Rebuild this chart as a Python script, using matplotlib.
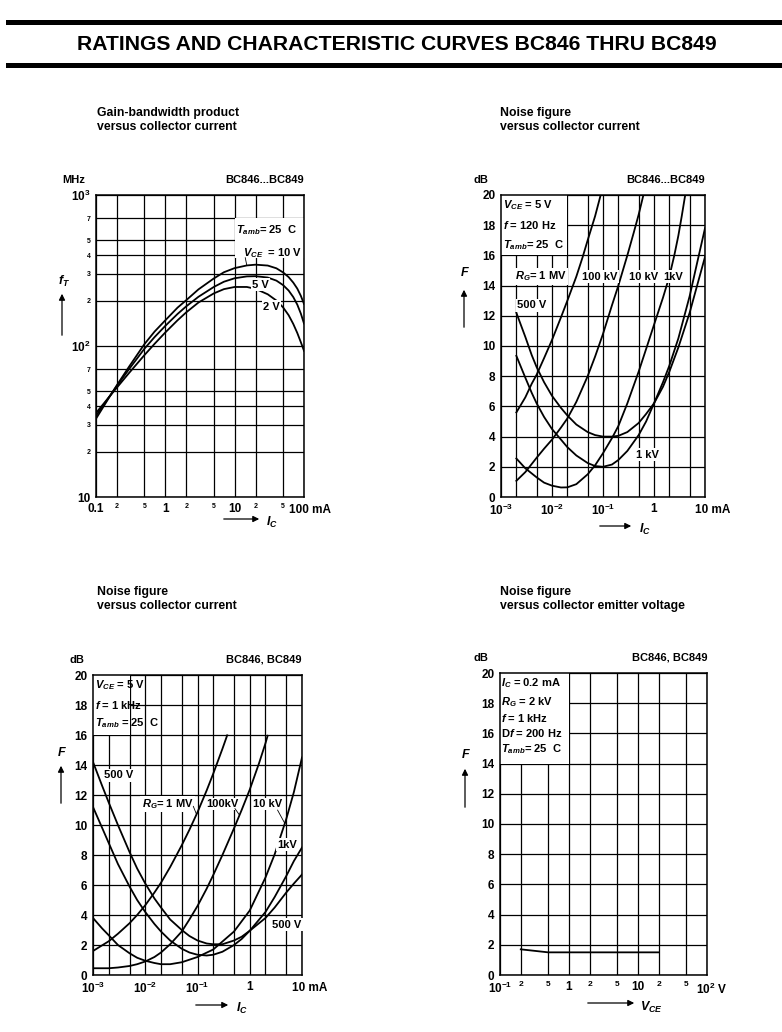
import matplotlib
matplotlib.use("Agg")
import matplotlib.pyplot as plt
from matplotlib.patches import Rectangle, FancyArrowPatch
from matplotlib.lines import Line2D

plt.rcParams['font.family'] = ['Liberation Sans Narrow', 'Liberation Sans', 'DejaVu Sans']
plt.rcParams['mathtext.fontset'] = 'custom'
plt.rcParams['mathtext.rm'] = 'Liberation Sans:bold'
plt.rcParams['mathtext.it'] = 'Liberation Sans:bold:italic'
plt.rcParams['mathtext.bf'] = 'Liberation Sans:bold'

# ---------------- data ----------------
# Panel 1: gain-bandwidth product fT (MHz) vs IC (mA)
ic1 = [0.1, 0.15, 0.2, 0.3, 0.5, 0.7, 1, 1.5, 2, 3, 5, 7, 10, 15, 20, 30, 40, 50, 60, 70, 80, 90, 100]
ft_10v = [33, 44.6, 55, 73, 103, 124.6, 148, 179.5, 201, 237, 280, 308, 328, 341.6, 345.6, 341, 327, 307, 286, 263, 240, 215, 190]
ft_5v = [34.5, 45.1, 54.4, 70.3, 96, 114.6, 136, 163, 183, 211.7, 246, 266.5, 281, 289, 290, 284, 271, 253, 233, 211, 188, 164, 141]
ft_2v = [36, 45.2, 53, 66.3, 87.1, 103.4, 123, 148, 167, 194, 223, 238, 246, 246, 239, 220, 200, 180, 160, 140, 122, 106, 93]

# Panel 2: noise figure (dB) vs IC (mA), f = 120 Hz
ic2_1M = [2e-3, 3e-3, 4e-3, 5e-3, 7e-3, 1e-2, 1.5e-2, 2e-2, 3e-2, 4e-2, 5e-2, 7e-2, 9e-2]
nf2_1M = [5.6, 6.6, 7.5, 8.1, 9.2, 10.4, 11.9, 13.0, 14.6, 15.9, 17.0, 18.6, 20.0]
ic2_100k = [2e-3, 3e-3, 5e-3, 7e-3, 1e-2, 1.5e-2, 2e-2, 3e-2, 5e-2, 7e-2, 0.1, 0.15, 0.2, 0.3, 0.4, 0.5, 0.62]
nf2_100k = [1.07, 1.65, 2.6, 3.2, 3.8, 4.6, 5.2, 6.3, 8.0, 9.3, 10.8, 12.7, 14.0, 16.0, 17.5, 18.7, 20.0]
ic2_10k = [2e-3, 3e-3, 5e-3, 7e-3, 1e-2, 1.5e-2, 2e-2, 3e-2, 5e-2, 7e-2, 0.1, 0.15, 0.2, 0.3, 0.5, 0.7, 1, 1.5, 2, 2.5, 3, 3.5, 4, 4.1]
nf2_10k = [2.55, 1.9, 1.3, 0.95, 0.75, 0.63, 0.64, 0.85, 1.5, 2.1, 2.9, 3.9, 4.7, 6.2, 8.3, 9.8, 11.4, 13.2, 14.6, 16.0, 17.3, 18.6, 19.8, 20.0]
ic2_1k = [2e-3, 3e-3, 4e-3, 5e-3, 7e-3, 1e-2, 1.5e-2, 2e-2, 3e-2, 5e-2, 7e-2, 0.1, 0.15, 0.2, 0.3, 0.5, 0.7, 1, 1.5, 2, 3, 5, 7, 10]
nf2_1k = [9.35, 7.9, 6.9, 6.2, 5.3, 4.5, 3.8, 3.3, 2.75, 2.25, 2.05, 2.0, 2.15, 2.45, 3.05, 4.1, 5.0, 6.2, 7.6, 8.7, 10.5, 13.3, 15.5, 17.8]
ic2_500 = [2e-3, 3e-3, 4e-3, 5e-3, 7e-3, 1e-2, 1.5e-2, 2e-2, 3e-2, 5e-2, 7e-2, 0.1, 0.15, 0.2, 0.3, 0.5, 0.7, 1, 1.5, 2, 3, 5, 7, 10]
nf2_500 = [12.2, 10.6, 9.4, 8.6, 7.6, 6.7, 5.9, 5.4, 4.8, 4.3, 4.1, 4.0, 4.0, 4.05, 4.3, 4.9, 5.5, 6.2, 7.3, 8.3, 9.9, 12.2, 14.0, 15.9]

# Panel 3: noise figure (dB) vs IC (mA), f = 1 kHz
ic3_500 = [1e-3, 1.5e-3, 2e-3, 3e-3, 5e-3, 7e-3, 1e-2, 1.5e-2, 2e-2, 3e-2, 5e-2, 7e-2, 0.1, 0.15, 0.2, 0.3, 0.5, 0.7, 1, 2, 3, 5, 7, 10]
nf3_500 = [14.2, 12.6, 11.5, 10.0, 8.2, 7.1, 6.1, 5.1, 4.5, 3.7, 3.0, 2.6, 2.3, 2.1, 2.05, 2.05, 2.3, 2.55, 2.95, 3.8, 4.5, 5.5, 6.1, 6.7]
ic3_1k = [1e-3, 1.5e-3, 2e-3, 3e-3, 5e-3, 7e-3, 1e-2, 1.5e-2, 2e-2, 3e-2, 5e-2, 7e-2, 0.1, 0.15, 0.2, 0.3, 0.5, 0.7, 1, 2, 3, 5, 7, 10]
nf3_1k = [11.2, 9.8, 8.8, 7.4, 5.9, 5.0, 4.2, 3.4, 2.9, 2.3, 1.75, 1.5, 1.35, 1.3, 1.35, 1.55, 2.0, 2.4, 2.95, 4.2, 5.2, 6.6, 7.6, 8.5]
ic3_10k = [1e-3, 1.5e-3, 2e-3, 3e-3, 5e-3, 7e-3, 1e-2, 1.5e-2, 2e-2, 3e-2, 5e-2, 0.1, 0.2, 0.5, 1, 2, 3, 5, 7, 10]
nf3_10k = [3.8, 3.1, 2.65, 2.0, 1.45, 1.15, 0.95, 0.8, 0.72, 0.72, 0.85, 1.2, 1.7, 2.9, 4.3, 6.5, 8.05, 10.4, 12.2, 14.5]
ic3_100k = [1e-3, 2e-3, 3e-3, 5e-3, 7e-3, 1e-2, 1.5e-2, 2e-2, 3e-2, 5e-2, 7e-2, 0.1, 0.15, 0.2, 0.3, 0.5, 0.7, 1, 1.5, 2, 2.2]
nf3_100k = [0.45, 0.45, 0.5, 0.6, 0.72, 0.9, 1.2, 1.5, 2.05, 2.9, 3.7, 4.6, 5.76, 6.66, 8.0, 9.78, 11.0, 12.36, 14.1, 15.45, 15.95]
ic3_1M = [1e-3, 2e-3, 3e-3, 5e-3, 7e-3, 1e-2, 1.5e-2, 2e-2, 3e-2, 5e-2, 7e-2, 0.1, 0.15, 0.2, 0.3, 0.37]
nf3_1M = [1.6, 2.25, 2.75, 3.45, 4.0, 4.65, 5.5, 6.15, 7.2, 8.65, 9.68, 10.85, 12.31, 13.42, 15.08, 15.98]

# Panel 4: noise figure (dB) vs VCE (V)
vce4 = [0.2, 0.5, 1, 2, 5, 10, 20]
nf4 = [1.7, 1.5, 1.5, 1.5, 1.5, 1.5, 1.5]

# ticks
x1_ticks = [0.1, 0.2, 0.5, 1, 2, 5, 10, 20, 50, 100]
x1_labels = ["0.1", "2", "5", "1", "2", "5", "10", "2", "5", ""]
y1_ticks = [10, 20, 30, 40, 50, 70, 100, 200, 300, 400, 500, 700, 1000]
y1_labels = ["10", "2", "3", "4", "5", "7", r"$10^2$", "2", "3", "4", "5", "7", r"$10^3$"]
xn_ticks = [1e-3, 2e-3, 5e-3, 1e-2, 2e-2, 5e-2, 0.1, 0.2, 0.5, 1, 2, 5, 10]
xn_labels = [r"$10^{-3}$", "", "", r"$10^{-2}$", "", "", r"$10^{-1}$", "", "", "1", "", "", ""]
yn_ticks = [0, 2, 4, 6, 8, 10, 12, 14, 16, 18, 20]
yn_labels = ["0", "2", "4", "6", "8", "10", "12", "14", "16", "18", "20"]
x4_ticks = [0.1, 0.2, 0.5, 1, 2, 5, 10, 20, 50, 100]
x4_labels = [r"$10^{-1}$", "2", "5", "1", "2", "5", "10", "2", "5", ""]

W, H = 782, 1032
fig = plt.figure(figsize=(W / 100, H / 100), dpi=100)


def fx(px):
    return px / W


def fy(py):
    return 1 - py / H


def make_ax(x0, y0, x1, y1):
    return fig.add_axes([fx(x0), fy(y1), fx(x1) - fx(x0), (y1 - y0) / H])


BIG = 8.5
SMALL = 5.0


def style(ax, xt, xl, yt, yl, small_x=(), small_y=()):
    ax.set_xticks(xt)
    ax.set_xticklabels(xl)
    ax.set_yticks(yt)
    ax.set_yticklabels(yl)
    ax.minorticks_off()
    ax.tick_params(length=0, pad=4)
    ax.set_axisbelow(True)
    ax.grid(True, which='major', color='black', linewidth=0.9)
    for i, t in enumerate(ax.get_xticklabels()):
        t.set_fontweight('bold')
        t.set_fontsize(SMALL if i in small_x else BIG)
    for i, t in enumerate(ax.get_yticklabels()):
        t.set_fontweight('bold')
        t.set_fontsize(SMALL if i in small_y else BIG)
    for s in ax.spines.values():
        s.set_linewidth(1.1)


def cover(ax, x0, x1, y0, y1):
    ax.add_patch(Rectangle((x0, y0), x1 - x0, y1 - y0, facecolor='white',
                           edgecolor='none', zorder=1))


def ftext(px, py, s, **kw):
    kw.setdefault('fontsize', 9)
    fig.text(fx(px), fy(py), s, **kw)


def arrow(x0, y0, x1, y1):
    fig.add_artist(FancyArrowPatch((fx(x0), fy(y0)), (fx(x1), fy(y1)),
                                   transform=fig.transFigure, arrowstyle='-|>',
                                   mutation_scale=9, lw=0.9, color='black'))


def lab(ax, x, y, s, fs=8, bg=True, **kw):
    bb = dict(facecolor='white', edgecolor='none', pad=1.0) if bg else None
    ax.text(x, y, s, fontsize=fs, fontweight='bold', zorder=4, bbox=bb, **kw)


def leader(ax, p0, p1):
    ax.annotate("", xy=p1, xytext=p0,
                arrowprops=dict(arrowstyle='-', lw=0.6, color='black',
                                shrinkA=0, shrinkB=0), zorder=4)


LW = 1.3
HEAD = dict(fontsize=8.8, fontweight='bold', va='center')

# ---------------- title ----------------
fig.add_artist(Line2D([fx(8), fx(782)], [fy(22), fy(22)], lw=3.6, color='black'))
fig.add_artist(Line2D([fx(8), fx(782)], [fy(65), fy(65)], lw=3.6, color='black'))
ftext(397, 44, "RATINGS AND CHARACTERISTIC CURVES BC846 THRU BC849",
      fontsize=15.2, fontweight='bold', ha='center', va='center')

# ---------------- panel 1 ----------------
ax1 = make_ax(96, 195, 304, 497)
ax1.set_xscale('log')
ax1.set_yscale('log')
ax1.set_xlim(0.1, 100)
ax1.set_ylim(10, 1000)
style(ax1, x1_ticks, x1_labels, y1_ticks, y1_labels,
      small_x=(1, 2, 4, 5, 7, 8), small_y=(1, 2, 3, 4, 5, 7, 8, 9, 10, 11))
ax1.plot(ic1, ft_10v, color='black', lw=LW, zorder=3)
ax1.plot(ic1, ft_5v, color='black', lw=LW, zorder=3)
ax1.plot(ic1, ft_2v, color='black', lw=LW, zorder=3)
cover(ax1, 10, 100, 385, 700)
lab(ax1, 10.3, 590, r"$T_{amb}$= 25  C", va='center', bg=False)
lab(ax1, 13.2, 415, r"$V_{CE}$  = 10 V", va='center', bg=False)
leader(ax1, (14.2, 385), (14.9, 345))
lab(ax1, 17.8, 255, "5 V", va='center')
lab(ax1, 25.5, 182, "2 V", va='center')
ax1.annotate("100 mA", xy=(100, 0), xycoords=('data', 'axes fraction'),
             xytext=(-11, -5), textcoords='offset points', ha='left', va='top',
             fontsize=BIG, fontweight='bold')

ftext(97, 113, "Gain-bandwidth product", **HEAD)
ftext(97, 127, "versus collector current", **HEAD)
ftext(62, 180, "MHz", fontsize=8, fontweight='bold', va='center')
ftext(304, 180, "BC846...BC849", fontsize=8, fontweight='bold', va='center', ha='right')
ftext(58, 281, r"$f_T$", fontsize=9, va='center')
arrow(62, 338, 62, 291)
arrow(221, 519, 262, 519)
ftext(266, 522, r"$I_C$", fontsize=9, va='center')

# ---------------- panel 2 ----------------
ax2 = make_ax(501, 195, 705, 497)
ax2.set_xscale('log')
ax2.set_xlim(1e-3, 10)
ax2.set_ylim(0, 20)
style(ax2, xn_ticks, xn_labels, yn_ticks, yn_labels)
for xs, ys in [(ic2_1M, nf2_1M), (ic2_100k, nf2_100k), (ic2_10k, nf2_10k),
               (ic2_1k, nf2_1k), (ic2_500, nf2_500)]:
    ax2.plot(xs, ys, color='black', lw=LW, zorder=3)
cover(ax2, 1e-3, 2e-2, 16, 20)
lab(ax2, 1.08e-3, 19.3, r"$V_{CE}$ = 5 V", va='center', bg=False)
lab(ax2, 1.08e-3, 18.0, r"$f$ = 120 Hz", va='center', bg=False)
lab(ax2, 1.08e-3, 16.7, r"$T_{amb}$= 25  C", va='center', bg=False)
lab(ax2, 1.9e-3, 14.6, r"$R_G$= 1 MV", va='center')
lab(ax2, 3.9e-2, 14.6, "100 kV", va='center')
lab(ax2, 0.33, 14.6, "10 kV", va='center')
lab(ax2, 1.55, 14.6, "1kV", va='center')
lab(ax2, 2.1e-3, 12.7, "500 V", va='center')
lab(ax2, 0.45, 2.8, "1 kV", va='center')
ax2.annotate("10 mA", xy=(10, 0), xycoords=('data', 'axes fraction'),
             xytext=(-7, -5), textcoords='offset points', ha='left', va='top',
             fontsize=BIG, fontweight='bold')

ftext(500, 113, "Noise figure", **HEAD)
ftext(500, 127, "versus collector current", **HEAD)
ftext(474, 180, "dB", fontsize=8, fontweight='bold', va='center')
ftext(705, 180, "BC846...BC849", fontsize=8, fontweight='bold', va='center', ha='right')
ftext(460, 272, r"$F$", fontsize=9, va='center')
arrow(464, 330, 464, 287)
arrow(597, 526, 634, 526)
ftext(639, 529, r"$I_C$", fontsize=9, va='center')

# ---------------- panel 3 ----------------
ax3 = make_ax(93, 675, 302, 975)
ax3.set_xscale('log')
ax3.set_xlim(1e-3, 10)
ax3.set_ylim(0, 20)
style(ax3, xn_ticks, xn_labels, yn_ticks, yn_labels)
for xs, ys in [(ic3_500, nf3_500), (ic3_1k, nf3_1k), (ic3_10k, nf3_10k),
               (ic3_100k, nf3_100k), (ic3_1M, nf3_1M)]:
    ax3.plot(xs, ys, color='black', lw=LW, zorder=3)
cover(ax3, 1e-3, 5e-3, 16, 20)
lab(ax3, 1.1e-3, 19.3, r"$V_{CE}$ = 5 V", va='center', bg=False)
lab(ax3, 1.1e-3, 18.0, r"$f$ = 1 kHz", va='center', bg=False)
lab(ax3, 1.1e-3, 16.8, r"$T_{amb}$ = 25  C", va='center', bg=False)
lab(ax3, 1.6e-3, 13.3, "500 V", va='center')
lab(ax3, 8.6e-3, 11.4, r"$R_G$= 1 MV", va='center')
lab(ax3, 0.15, 11.4, "100kV", va='center')
lab(ax3, 1.17, 11.4, "10 kV", va='center')
lab(ax3, 3.3, 8.7, "1kV", va='center')
lab(ax3, 2.7, 3.35, "500 V", va='center')
leader(ax3, (0.083, 11.25), (0.096, 10.7))
leader(ax3, (0.52, 11.1), (0.64, 10.65))
leader(ax3, (3.4, 11.0), (4.7, 10.1))
ax3.annotate("10 mA", xy=(10, 0), xycoords=('data', 'axes fraction'),
             xytext=(-7, -5), textcoords='offset points', ha='left', va='top',
             fontsize=BIG, fontweight='bold')

ftext(97, 592, "Noise figure", **HEAD)
ftext(97, 606, "versus collector current", **HEAD)
ftext(70, 660, "dB", fontsize=8, fontweight='bold', va='center')
ftext(302, 660, "BC846, BC849", fontsize=8, fontweight='bold', va='center', ha='right')
ftext(57, 753, r"$F$", fontsize=9, va='center')
arrow(61, 806, 61, 763)
arrow(193, 1005, 231, 1005)
ftext(236, 1008, r"$I_C$", fontsize=9, va='center')

# ---------------- panel 4 ----------------
ax4 = make_ax(500, 673, 707, 975)
ax4.set_xscale('log')
ax4.set_xlim(0.1, 100)
ax4.set_ylim(0, 20)
style(ax4, x4_ticks, x4_labels, yn_ticks, yn_labels, small_x=(1, 2, 4, 5, 7, 8))
for i, t in enumerate(ax4.get_xticklabels()):
    if i in (1, 2, 4, 5, 7, 8):
        t.set_fontsize(6.0)
ax4.plot(vce4, nf4, color='black', lw=LW, zorder=3)
cover(ax4, 0.1, 1.0, 14, 20)
lab(ax4, 0.104, 19.3, r"$I_C$ = 0.2 mA", va='center', bg=False)
lab(ax4, 0.104, 18.1, r"$R_G$ = 2 kV", va='center', bg=False)
lab(ax4, 0.104, 17.0, r"$f$ = 1 kHz", va='center', bg=False)
lab(ax4, 0.104, 16.0, r"D$f$ = 200 Hz", va='center', bg=False)
lab(ax4, 0.104, 14.95, r"$T_{amb}$= 25  C", va='center', bg=False)
ax4.annotate(r"$10^2$ V", xy=(100, 0), xycoords=('data', 'axes fraction'),
             xytext=(-8, -5), textcoords='offset points', ha='left', va='top',
             fontsize=BIG, fontweight='bold')

ftext(500, 592, "Noise figure", **HEAD)
ftext(500, 606, "versus collector emitter voltage", **HEAD)
ftext(474, 658, "dB", fontsize=8, fontweight='bold', va='center')
ftext(707, 658, "BC846, BC849", fontsize=8, fontweight='bold', va='center', ha='right')
ftext(461, 754, r"$F$", fontsize=9, va='center')
arrow(465, 810, 465, 766)
arrow(585, 1003, 637, 1003)
ftext(640, 1007, r"$V_{CE}$", fontsize=9, va='center')

fig.savefig("out.png", dpi=100, facecolor='white')
